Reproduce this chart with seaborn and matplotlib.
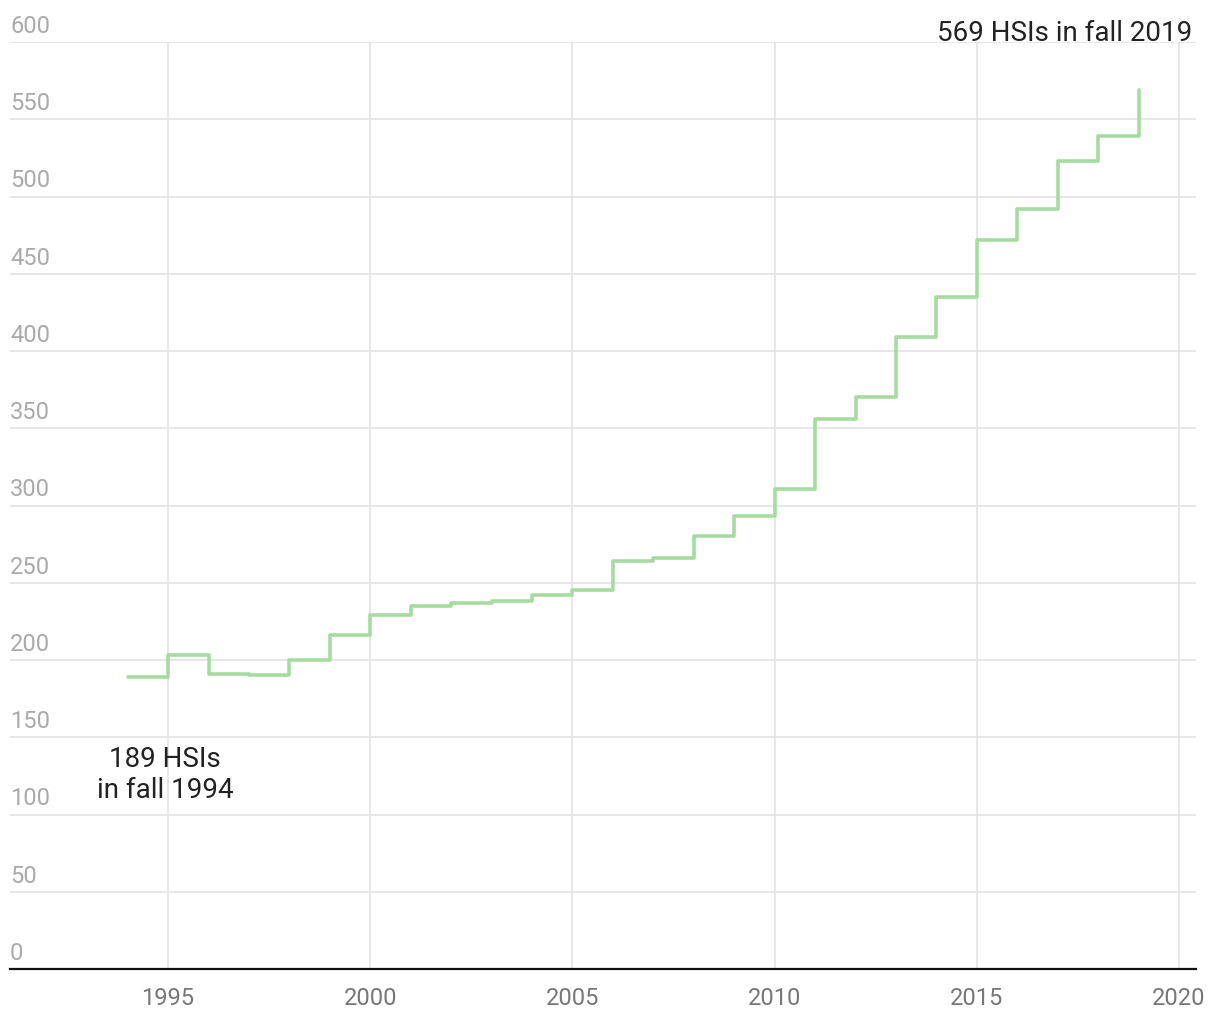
import matplotlib
matplotlib.use("Agg")
import matplotlib.pyplot as plt
import matplotlib.transforms as mtransforms
import seaborn as sns
import pandas as pd

years = [1994, 1995, 1996, 1997, 1998, 1999, 2000, 2001, 2002, 2003, 2004, 2005, 2006,
         2007, 2008, 2009, 2010, 2011, 2012, 2013, 2014, 2015, 2016, 2017, 2018, 2019]
hsis = [189, 203, 191, 190, 200, 216, 229, 235, 237, 238, 242, 245, 264,
        266, 280, 293, 311, 356, 370, 409, 435, 472, 492, 523, 539, 569]
y_ticks = [0, 50, 100, 150, 200, 250, 300, 350, 400, 450, 500, 550, 600]
x_ticks = [1995, 2000, 2005, 2010, 2015, 2020]
label_end = "569 HSIs in fall 2019"
label_start = "189 HSIs\nin fall 1994"

df = pd.DataFrame({"year": years, "hsis": hsis})

sns.set_theme(style="white")
plt.rcParams["font.family"] = ["Roboto", "DejaVu Sans"]

fig = plt.figure(figsize=(12.2, 10.2), dpi=100)
ax = fig.add_axes([10 / 1220, 50 / 1020, 1186 / 1220, 927 / 1020])

sns.lineplot(data=df, x="year", y="hsis", ax=ax, color="#a6db9f", linewidth=2.6,
             drawstyle="steps-post", zorder=3)

ax.set_xlim(1991.09, 2020.42)
ax.set_ylim(0, 600)
ax.set_xticks(x_ticks)
ax.set_yticks(y_ticks)
ax.grid(True, color="#e3e3e3", linewidth=1.2)
ax.set_axisbelow(True)
for s in ["top", "right", "left"]:
    ax.spines[s].set_visible(False)
ax.spines["bottom"].set_color("#111111")
ax.spines["bottom"].set_linewidth(1.6)
ax.spines["bottom"].set_zorder(4)

ax.tick_params(axis="x", length=0, pad=12, labelsize=17, labelcolor="#777777")
ax.set_xticklabels([str(t) for t in x_ticks])
ax.tick_params(axis="y", length=0, labelleft=False)
ax.set_xlabel("")
ax.set_ylabel("")

trans = mtransforms.blended_transform_factory(ax.transAxes, ax.transData)
trans = mtransforms.offset_copy(trans, fig=fig, x=0, y=5, units="dots")
for t in y_ticks:
    ax.text(0.0, t, str(t), transform=trans, ha="left", va="bottom",
            fontsize=17, color="#aaaaaa")

ax.text(2020.32, 601.5, label_end, ha="right", va="baseline", fontsize=20,
        color="#222222", clip_on=False)
ax.text(1994.93, 126, label_start, ha="center", va="center", fontsize=20,
        color="#222222", linespacing=1.2)

fig.savefig("out.png", dpi=100, facecolor="white")
